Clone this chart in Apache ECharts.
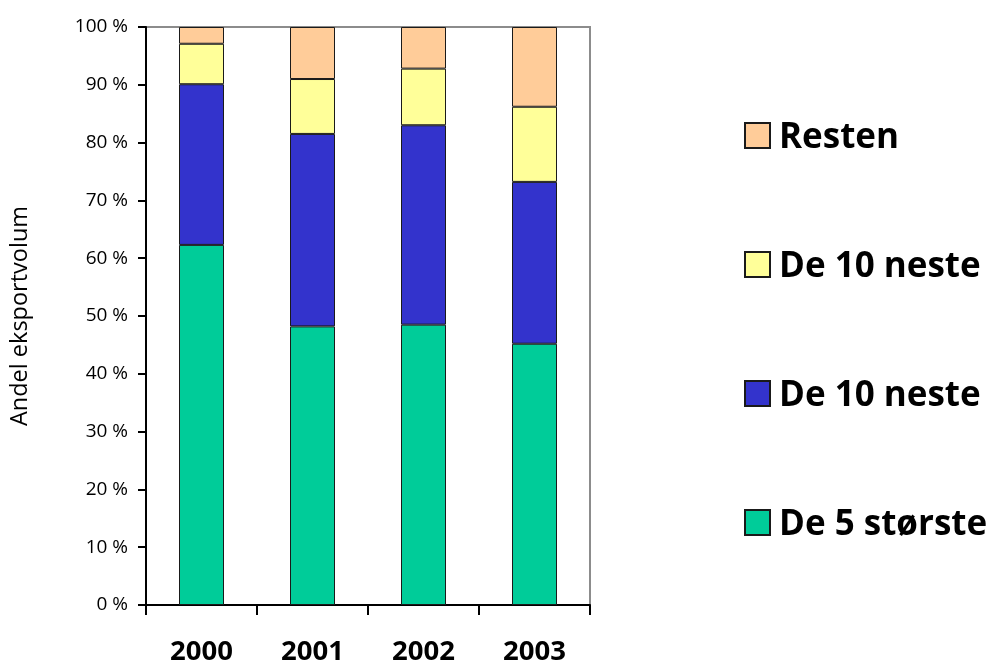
<!DOCTYPE html>
<html><head><meta charset="utf-8">
<script src="https://cdn.jsdelivr.net/npm/echarts@6/dist/echarts.min.js"></script>
<style>html,body{margin:0;padding:0;background:#fff}#c{width:989px;height:666px}</style>
</head><body><div id="c"></div>
<script>
const years = ['2000', '2001', '2002', '2003'];
const de5storste = [62.3, 48.2, 48.5, 45.2];
const de10neste1 = [27.8, 33.3, 34.5, 28.0];
const de10neste2 = [7.0, 9.5, 9.8, 13.0];
const resten = [2.9, 9.0, 7.2, 13.8];
const yTicks = [0, 10, 20, 30, 40, 50, 60, 70, 80, 90, 100];

const chart = echarts.init(document.getElementById('c'), null, {renderer: 'canvas'});
const border = {borderColor: '#1a1a1a', borderWidth: 1};
const names = {s1: 'De 5 største', s2: 'De 10 neste', s3: 'De 10 neste\u200b', s4: 'Resten'};
const FONT = "'Open Sans', 'Noto Sans', sans-serif";
chart.setOption({
  animation: false,
  grid: {left: 146, right: 399, top: 27, bottom: 61, show: true, borderColor: '#8c8c8c', borderWidth: 2, backgroundColor: 'transparent', outerBoundsMode: 'none', containLabel: false},
  legend: {
    orient: 'vertical', left: 744, top: 115, padding: 0,
    icon: 'rect',
    itemWidth: 25, itemHeight: 25, itemGap: 88,
    data: [names.s4, names.s3, names.s2, names.s1],
    textStyle: {
      fontFamily: FONT, fontWeight: 'bold', fontSize: 35, color: '#000', padding: [0, 0, 0, 4],
      rich: {t: {fontFamily: FONT, fontWeight: 'bold', fontSize: 35, color: '#000', lineHeight: 35, padding: [6, 0, 0, 0]}}
    },
    formatter: n => '{t|' + n.replace('\u200b', '') + '}'
  },
  xAxis: {
    type: 'category', data: years,
    axisLine: {lineStyle: {color: '#000', width: 2}},
    axisTick: {show: true, length: 10, lineStyle: {color: '#000', width: 2}},
    axisLabel: {fontFamily: FONT, fontWeight: 'bold', fontSize: 27.5, color: '#000', margin: 33}
  },
  yAxis: {
    type: 'value', min: yTicks[0], max: yTicks[yTicks.length - 1], interval: 10,
    name: 'Andel eksportvolum', nameLocation: 'middle', nameRotate: 90, nameGap: 114,
    nameTextStyle: {fontFamily: FONT, fontSize: 23.5, color: '#000'},
    axisLine: {show: true, lineStyle: {color: '#000', width: 2}},
    axisTick: {show: true, length: 8, lineStyle: {color: '#000', width: 2}},
    splitLine: {show: false},
    axisLabel: {formatter: '{value} %', fontFamily: FONT, fontSize: 19, color: '#000', margin: 18}
  },
  series: [
    {name: names.s1, type: 'bar', stack: 't', barWidth: 45, data: de5storste, itemStyle: Object.assign({color: '#00cc99'}, border)},
    {name: names.s2, type: 'bar', stack: 't', data: de10neste1, itemStyle: Object.assign({color: '#3333cc'}, border)},
    {name: names.s3, type: 'bar', stack: 't', data: de10neste2, itemStyle: Object.assign({color: '#ffff99'}, border)},
    {name: names.s4, type: 'bar', stack: 't', data: resten, itemStyle: Object.assign({color: '#ffcc99'}, border)}
  ]
});
</script></body></html>
